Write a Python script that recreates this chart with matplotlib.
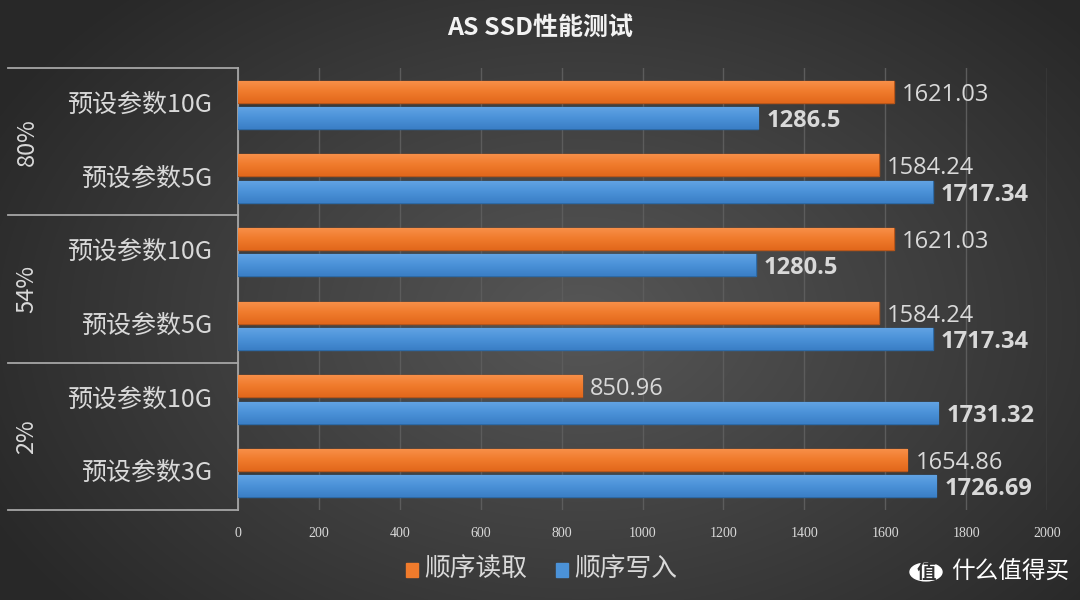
import numpy as np
import matplotlib
matplotlib.use("Agg")
import matplotlib.pyplot as plt
import matplotlib.transforms as mtransforms
from matplotlib.colors import LinearSegmentedColormap
from matplotlib.patches import Circle

plt.rcParams['font.family'] = ['Noto Sans CJK SC', 'DejaVu Sans']

# data, top to bottom
groups = ['80%', '54%', '2%']
labels = ['预设参数10G', '预设参数5G', '预设参数10G', '预设参数5G', '预设参数10G', '预设参数3G']
read_vals = [1621.03, 1584.24, 1621.03, 1584.24, 850.96, 1654.86]
write_vals = [1286.5, 1717.34, 1280.5, 1717.34, 1731.32, 1726.69]
ticks = [0, 200, 400, 600, 800, 1000, 1200, 1400, 1600, 1800, 2000]

orange = '#f07b2c'
blue = '#4b92d8'
txt = '#d9d9d9'

fig = plt.figure(figsize=(10.8, 6), dpi=100)

# radial gradient background
bg = fig.add_axes([0, 0, 1, 1], zorder=-10)
yy, xx = np.mgrid[0:600, 0:1080]
r = np.sqrt(((xx - 580) / 620.0) ** 2 + ((yy - 320) / 420.0) ** 2)
shade = np.clip(0.34 - 0.17 * r, 0.16, 0.34)
bg.imshow(np.dstack([shade] * 3), aspect='auto', extent=[0, 1, 0, 1])
bg.axis('off')

ax = fig.add_axes([238 / 1080, 90 / 600, 809 / 1080, 442 / 600])
ax.set_facecolor('none')

n = len(labels)
y = np.arange(n)
h = 0.3
off = 0.18
rb = ax.barh(y - off, read_vals, height=h, color=orange, edgecolor='#b8561a', linewidth=1, zorder=3)
wb = ax.barh(y + off, write_vals, height=h, color=blue, edgecolor='#2d6aa6', linewidth=1, zorder=3)

# soft vertical shading on the bars
cm_o = LinearSegmentedColormap.from_list('o', ['#f8914a', '#f07b2c', '#e2681c'])
cm_b = LinearSegmentedColormap.from_list('b', ['#63a4e4', '#4b92d8', '#3b7fc6'])
grad = np.linspace(0, 1, 32).reshape(-1, 1)
for bars, cm in [(rb, cm_o), (wb, cm_b)]:
    for p in bars:
        x0, y0 = p.get_x(), p.get_y()
        im = ax.imshow(grad, cmap=cm, aspect='auto', zorder=3.5,
                       extent=[x0, x0 + p.get_width(), y0 + p.get_height(), y0])
        im.set_clip_path(p)

for i in range(n):
    ax.text(read_vals[i] + 20, y[i] - off + 0.04, f'{read_vals[i]:g}', va='center', ha='left',
            color=txt, fontsize=17, family=['Open Sans', 'DejaVu Sans'])
    ax.text(write_vals[i] + 20, y[i] + off + 0.04, f'{write_vals[i]:g}', va='center', ha='left',
            color=txt, fontsize=17, fontweight='bold', family=['Open Sans', 'DejaVu Sans'])

ax.set_xlim(0, 2000)
ax.set_ylim(n - 0.5, -0.5)
ax.set_xticks(ticks)
ax.set_xticklabels([str(t) for t in ticks], family='Liberation Serif', fontsize=10, color=txt)
ax.set_yticks([])
ax.tick_params(axis='x', length=0, pad=12)
ax.grid(axis='x', color='#5c5c5c', linewidth=1, zorder=0)
for s in ['top', 'right', 'bottom']:
    ax.spines[s].set_visible(False)
ax.spines['left'].set_color('#a6a6a6')
ax.spines['left'].set_linewidth(1.3)

# category labels and group brackets
trans = mtransforms.blended_transform_factory(fig.transFigure, ax.transData)
for i in range(n):
    ax.text(212 / 1080, y[i], labels[i], transform=trans, ha='right', va='center',
            color=txt, fontsize=18)
for g in range(len(groups) + 1):
    ax.plot([8 / 1080, 238 / 1080], [g * 2 - 0.5] * 2, transform=trans, color='#a6a6a6',
            lw=1.3, clip_on=False)
for g, name in enumerate(groups):
    ax.text(27 / 1080, g * 2 + 0.5, name, transform=trans, rotation=90, ha='center',
            va='center', color=txt, fontsize=17)

fig.text(540 / 1080, 1 - 28 / 600, 'AS SSD性能测试', ha='center', va='center',
         color='#f2f2f2', fontsize=18, fontweight='bold')

# legend
fig.patches.append(plt.Rectangle((406 / 1080, 1 - 577 / 600), 12 / 1080, 14 / 600,
                                 transform=fig.transFigure, color=orange, figure=fig))
fig.text(424 / 1080, 1 - 569 / 600, '顺序读取', ha='left', va='center', color=txt, fontsize=18.5)
fig.patches.append(plt.Rectangle((556 / 1080, 1 - 577 / 600), 12 / 1080, 14 / 600,
                                 transform=fig.transFigure, color=blue, figure=fig))
fig.text(574 / 1080, 1 - 569 / 600, '顺序写入', ha='left', va='center', color=txt, fontsize=18.5)

# watermark
fig.patches.append(Circle((926 / 1080, 1 - 572 / 600), 16 / 1080, transform=fig.transFigure,
                          color='white', figure=fig))
fig.text(926 / 1080, 1 - 572 / 600, '值', ha='center', va='center', color='#333333',
         fontsize=14, fontweight='bold')
fig.text(951 / 1080, 1 - 572 / 600, '什么值得买', ha='left', va='center', color='white',
         fontsize=17)

fig.savefig('out.png', dpi=100)
